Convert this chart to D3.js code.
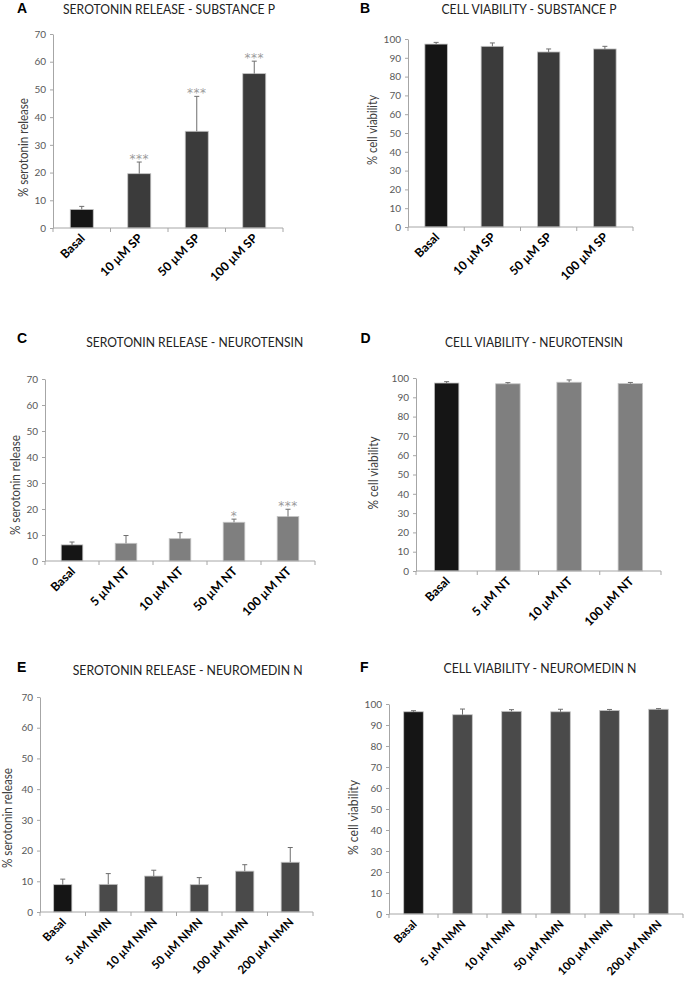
<!DOCTYPE html>
<html><head><meta charset="utf-8">
<script src="https://cdn.jsdelivr.net/npm/d3@7"></script>
<style>body{margin:0;background:#fff}</style>
</head><body><svg id="c" width="685" height="981"></svg>
<script>
// ---------- data ----------
const catsSP = ["Basal", "10 µM SP", "50 µM SP", "100 µM SP"];
const seroSP = [6.7, 19.6, 34.9, 55.7];
const seroSPErr = [1.1, 4.2, 12.6, 4.5];
const seroSPSig = ["", "***", "***", "***"];
const viaSP = [97.3, 96.1, 93.1, 94.7];
const viaSPErr = [0.9, 1.8, 1.6, 1.4];

const catsNTsero = ["Basal", "5 µM NT", "10 µM NT", "50 µM NT", "100 µM NT"];
const seroNT = [6.2, 6.8, 8.6, 14.9, 17.1];
const seroNTErr = [1.1, 3.0, 2.3, 1.2, 2.8];
const seroNTSig = ["", "", "", "*", "***"];
const catsNTvia = ["Basal", "5 µM NT", "10 µM NT", "100 µM NT"];
const viaNT = [97.4, 97.0, 97.8, 97.1];
const viaNTErr = [0.7, 0.6, 1.2, 0.6];

const catsNMN = ["Basal", "5 µM NMN", "10 µM NMN", "50 µM NMN", "100 µM NMN", "200 µM NMN"];
const seroNMN = [8.9, 9.0, 11.7, 8.9, 13.3, 16.2];
const seroNMNErr = [1.8, 3.5, 1.9, 2.3, 2.1, 4.8];
const viaNMN = [96.3, 94.9, 96.5, 96.3, 96.9, 97.5];
const viaNMNErr = [0.5, 2.7, 0.8, 1.2, 0.5, 0.3];

const seroTicks = [0, 10, 20, 30, 40, 50, 60, 70];
const viaTicks = [0, 10, 20, 30, 40, 50, 60, 70, 80, 90, 100];

// ---------- layout / style ----------
const basalColor = "#151515";
const panels = [
  {letter: "A", title: "SEROTONIN RELEASE - SUBSTANCE P", ylabel: "% serotonin release",
   cats: catsSP, vals: seroSP, errs: seroSPErr, sig: seroSPSig, ticks: seroTicks, color: "#3b3b3b",
   box: {x0: 53, x1: 283, yTop: 34, y0: 228}, letterPos: [17, 13], titleC: [169, 13.5], titleW: 212,
   ylab: [23, 147.5], ylabW: 99, xlFont: 12.2},
  {letter: "B", title: "CELL VIABILITY - SUBSTANCE P", ylabel: "% cell viability",
   cats: catsSP, vals: viaSP, errs: viaSPErr, sig: null, ticks: viaTicks, color: "#3b3b3b",
   box: {x0: 408, x1: 633, yTop: 39, y0: 227}, letterPos: [360, 13], titleC: [529, 13.5], titleW: 175,
   ylab: [371.7, 130], ylabW: 70, xlFont: 12.2},
  {letter: "C", title: "SEROTONIN RELEASE - NEUROTENSIN", ylabel: "% serotonin release",
   cats: catsNTsero, vals: seroNT, errs: seroNTErr, sig: seroNTSig, ticks: seroTicks, color: "#7f7f7f",
   box: {x0: 45, x1: 315, yTop: 379, y0: 561}, letterPos: [17, 343], titleC: [194.7, 347], titleW: 217,
   ylab: [15, 485], ylabW: 100, xlFont: 12.2},
  {letter: "D", title: "CELL VIABILITY - NEUROTENSIN", ylabel: "% cell viability",
   cats: catsNTvia, vals: viaNT, errs: viaNTErr, sig: null, ticks: viaTicks, color: "#7f7f7f",
   box: {x0: 416, x1: 661, yTop: 378, y0: 571}, letterPos: [360.5, 343], titleC: [534, 347], titleW: 178,
   ylab: [373.3, 473], ylabW: 73, xlFont: 12.2},
  {letter: "E", title: "SEROTONIN RELEASE - NEUROMEDIN N", ylabel: "% serotonin release",
   cats: catsNMN, vals: seroNMN, errs: seroNMNErr, sig: null, ticks: seroTicks, color: "#4a4a4a",
   box: {x0: 40, x1: 313, yTop: 697, y0: 912}, letterPos: [17, 672], titleC: [187.7, 675], titleW: 230,
   ylab: [6.7, 818], ylabW: 100, xlFont: 11.6},
  {letter: "F", title: "CELL VIABILITY - NEUROMEDIN N", ylabel: "% cell viability",
   cats: catsNMN, vals: viaNMN, errs: viaNMNErr, sig: null, ticks: viaTicks, color: "#4a4a4a",
   box: {x0: 389, x1: 683, yTop: 704, y0: 914}, letterPos: [360, 672], titleC: [540, 673], titleW: 193,
   ylab: [353.3, 817.5], ylabW: 75, xlFont: 11.4}
];

const svg = d3.select("#c");
svg.append("rect").attr("width", 685).attr("height", 981).attr("fill", "#fff");
const FONT = "Lato, 'Open Sans', sans-serif";

// compress text to the wanted width while keeping its height
function fit(sel, w) {
  const len = sel.node().getComputedTextLength();
  if (len > w) sel.attr("textLength", w).attr("lengthAdjust", "spacingAndGlyphs");
  else sel.attr("font-size", parseFloat(sel.attr("font-size")) * w / len);
}

panels.forEach(p => {
  const g = svg.append("g");
  const b = p.box;
  const max = p.ticks[p.ticks.length - 1];
  const x = d3.scaleBand().domain(p.cats).range([b.x0, b.x1]).paddingInner(0.6).paddingOuter(0.3);
  const y = d3.scaleLinear().domain([0, max]).range([b.y0, b.yTop]);

  // letter
  g.append("text").attr("x", p.letterPos[0]).attr("y", p.letterPos[1])
    .attr("font-family", "'Liberation Sans', Arial, sans-serif").attr("font-weight", "bold")
    .attr("font-size", 14).attr("fill", "#000").text(p.letter);
  // title
  const t = g.append("text").attr("x", p.titleC[0]).attr("y", p.titleC[1]).attr("text-anchor", "middle")
    .attr("font-family", FONT).attr("font-size", 13.5).attr("fill", "#222").text(p.title);
  fit(t, p.titleW);
  // y label
  const yl = g.append("text").attr("transform", `translate(${p.ylab[0]},${p.ylab[1]}) rotate(-90)`)
    .attr("text-anchor", "middle").attr("dominant-baseline", "central")
    .attr("font-family", FONT).attr("font-size", 13.5).attr("fill", "#404040").text(p.ylabel);
  fit(yl, p.ylabW);

  // y axis
  const ya = g.append("g").attr("transform", `translate(${b.x0},0)`)
    .call(d3.axisLeft(y).tickValues(p.ticks).tickSize(3).tickSizeOuter(0).tickPadding(4));
  ya.select(".domain").attr("stroke", "#a6a6a6");
  ya.selectAll(".tick line").attr("stroke", "#a6a6a6");
  ya.selectAll(".tick text").attr("font-family", FONT).attr("font-size", 10).attr("fill", "#595959");

  // bars
  g.selectAll("rect.bar").data(p.cats).join("rect").attr("class", "bar")
    .attr("x", c => x(c)).attr("width", x.bandwidth())
    .attr("y", (c, i) => y(p.vals[i])).attr("height", (c, i) => y(0) - y(p.vals[i]))
    .attr("fill", (c, i) => i === 0 ? basalColor : p.color)
    .attr("stroke", "#c4c4c4").attr("stroke-width", 0.8);

  // error bars (upper only)
  const cx = c => x(c) + x.bandwidth() / 2;
  g.selectAll("line.err").data(p.cats).join("line").attr("class", "err")
    .attr("x1", cx).attr("x2", cx)
    .attr("y1", (c, i) => y(p.vals[i])).attr("y2", (c, i) => y(p.vals[i] + p.errs[i]))
    .attr("stroke", "#6e6e6e").attr("stroke-width", 1);
  g.selectAll("line.cap").data(p.cats).join("line").attr("class", "cap")
    .attr("x1", c => cx(c) - 2.5).attr("x2", c => cx(c) + 2.5)
    .attr("y1", (c, i) => y(p.vals[i] + p.errs[i])).attr("y2", (c, i) => y(p.vals[i] + p.errs[i]))
    .attr("stroke", "#6e6e6e").attr("stroke-width", 1);

  // x axis line + ticks at category boundaries
  g.append("line").attr("x1", b.x0).attr("x2", b.x1).attr("y1", y(0)).attr("y2", y(0))
    .attr("stroke", "#a6a6a6");
  g.selectAll("line.xt").data(d3.range(p.cats.length + 1)).join("line").attr("class", "xt")
    .attr("x1", i => b.x0 + i * x.step()).attr("x2", i => b.x0 + i * x.step())
    .attr("y1", y(0)).attr("y2", y(0) + 4).attr("stroke", "#a6a6a6");

  // x labels
  g.selectAll("text.xl").data(p.cats).join("text").attr("class", "xl")
    .attr("transform", c => `translate(${cx(c) + 4},${y(0) + 11}) rotate(-45)`)
    .attr("text-anchor", "end").attr("font-family", FONT).attr("font-weight", "bold")
    .attr("font-size", p.xlFont).attr("fill", "#000").text(c => c);

  // significance stars
  if (p.sig) {
    g.selectAll("text.sig").data(p.cats).join("text").attr("class", "sig")
      .attr("x", cx).attr("y", (c, i) => y(p.vals[i] + p.errs[i]) + 1)
      .attr("text-anchor", "middle").attr("font-family", "'DejaVu Sans', sans-serif").attr("font-size", 12)
      .attr("letter-spacing", 0.5).attr("fill", "#9a9a9a").text((c, i) => p.sig[i]);
  }
});
</script>
</body></html>
